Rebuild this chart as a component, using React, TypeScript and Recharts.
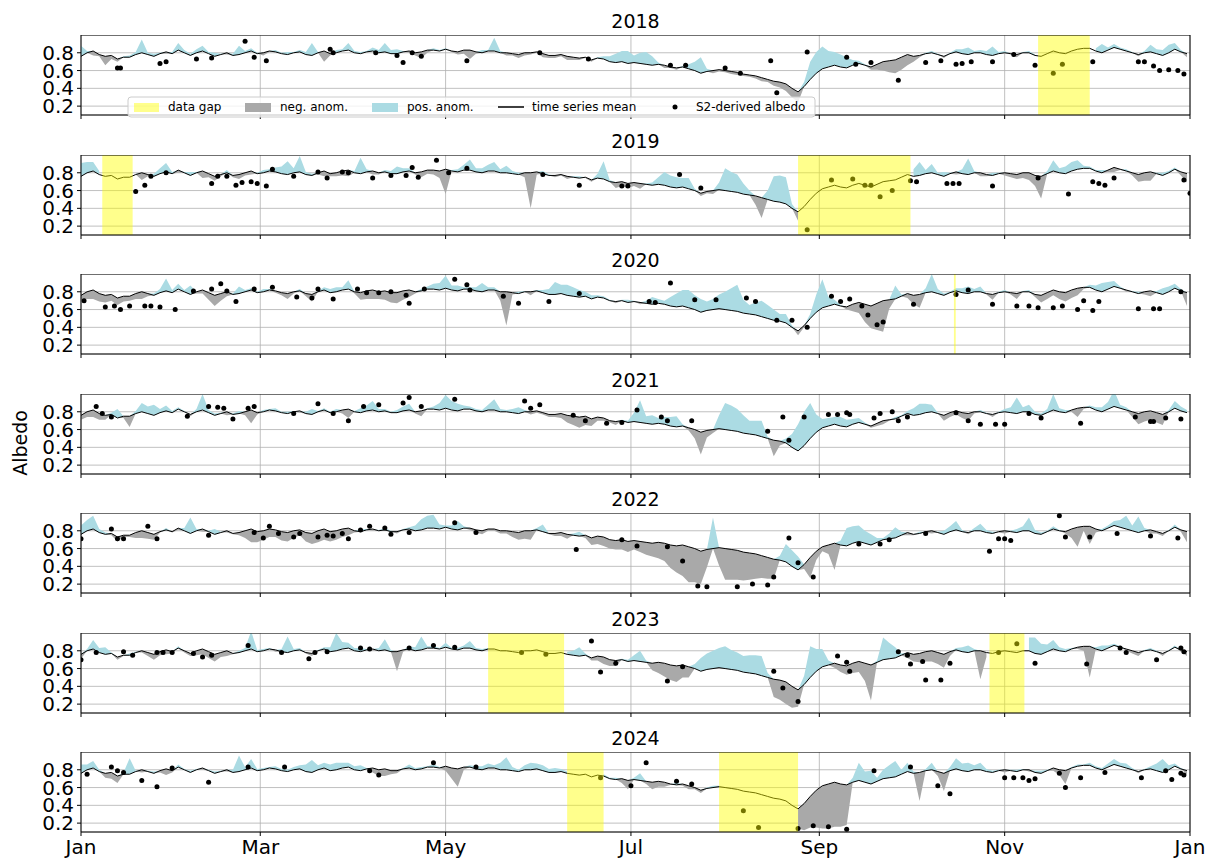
import React from "react";
import {
  Area,
  CartesianGrid,
  ComposedChart,
  Line,
  ReferenceArea,
  Scatter,
  XAxis,
  YAxis,
} from "recharts";

// sampling step of the series, in days of the year
const STEP = 2;

const monthTicks = [0, 59, 120, 181, 243, 304, 365];
const monthLabels = ["Jan", "Mar", "May", "Jul", "Sep", "Nov", "Jan"];
const albedoTicks = [0.2, 0.4, 0.6, 0.8];

// multi-year mean albedo, one value every 2 days (day 0 .. 364)
const meanAlbedo = [
  0.76, 0.8, 0.82, 0.78, 0.76, 0.77, 0.73, 0.75, 0.75, 0.78,
  0.8, 0.78, 0.76, 0.79, 0.81, 0.79, 0.83, 0.8, 0.77, 0.8,
  0.82, 0.79, 0.76, 0.78, 0.8, 0.77, 0.78, 0.8, 0.82, 0.79,
  0.8, 0.82, 0.81, 0.79, 0.78, 0.8, 0.81, 0.78, 0.77, 0.8,
  0.82, 0.79, 0.8, 0.82, 0.83, 0.8, 0.79, 0.81, 0.82, 0.8,
  0.81, 0.79, 0.79, 0.81, 0.82, 0.8, 0.81, 0.83, 0.83, 0.82,
  0.84, 0.82, 0.81, 0.83, 0.83, 0.81, 0.8, 0.82, 0.82, 0.8,
  0.8, 0.79, 0.78, 0.8, 0.8, 0.81, 0.79, 0.77, 0.77, 0.78,
  0.76, 0.75, 0.74, 0.75, 0.72, 0.74, 0.73, 0.7, 0.69, 0.7,
  0.68, 0.69, 0.68, 0.67, 0.66, 0.67, 0.66, 0.64, 0.63, 0.64,
  0.62, 0.6, 0.57, 0.59, 0.6, 0.61, 0.6, 0.59, 0.58, 0.56,
  0.55, 0.54, 0.52, 0.5, 0.48, 0.47, 0.45, 0.4, 0.36, 0.42,
  0.5, 0.57, 0.62, 0.64, 0.66, 0.64, 0.63, 0.66, 0.68, 0.66,
  0.64, 0.67, 0.7, 0.71, 0.72, 0.75, 0.78, 0.76, 0.77, 0.79,
  0.8, 0.78, 0.76, 0.79, 0.81, 0.79, 0.78, 0.8, 0.8, 0.78,
  0.77, 0.79, 0.8, 0.79, 0.78, 0.8, 0.8, 0.77, 0.76, 0.79,
  0.82, 0.8, 0.79, 0.82, 0.84, 0.85, 0.85, 0.82, 0.8, 0.83,
  0.86, 0.84, 0.82, 0.8, 0.78, 0.8, 0.81, 0.79, 0.77, 0.8,
  0.84, 0.81, 0.79,
];

// yearly departure from the mean, same day grid (null = no data)
const anom2018 = [
  0.12, 0.02, -0.05, -0.02, -0.1, -0.04, -0.03, 0.01, 0.02, 0.03,
  0.15, 0.02, 0.03, 0.01, -0.02, 0.02, 0.08, 0.03, 0.02, 0.04,
  0.06, 0.02, 0.04, 0.01, -0.02, 0.02, 0.1, 0.02, 0.03, 0.01,
  -0.03, -0.01, 0.02, 0.01, 0.03, 0.01, 0.02, 0.03, 0.14, 0.01,
  -0.12, -0.02, 0.03, 0.02, 0.08, 0.02, 0.02, 0.01, 0.04, 0.03,
  0.1, 0.04, 0.05, 0.01, -0.02, -0.03, -0.07, -0.03, 0.02, 0.01,
  0.01, -0.01, -0.03, -0.04, -0.1, -0.02, 0.03, 0.01, 0.15, 0.02,
  -0.03, -0.02, -0.04, -0.03, -0.02, -0.01, -0.04, -0.03, -0.03, -0.02,
  -0.04, -0.03, -0.02, -0.01, -0.02, 0.01, 0.03, 0.06, 0.1, 0.12,
  0.14, 0.08, 0.12, 0.14, 0.1, 0.02, -0.03, -0.01, -0.02, 0.01,
  0.05, 0.1, 0.18, 0.03, -0.03, -0.02, -0.02, -0.03, -0.03, -0.02,
  -0.02, -0.03, -0.04, -0.03, -0.05, -0.06, -0.08, -0.1, -0.12, 0.05,
  0.2, 0.24, 0.25, 0.18, 0.15, 0.14, 0.12, 0.06, 0.03, 0.01,
  -0.03, -0.06, -0.1, -0.13, -0.15, -0.14, -0.12, -0.06, -0.02, 0.01,
  0.02, 0.01, -0.02, 0.01, 0.03, 0.05, 0.08, 0.02, 0.03, 0.04,
  0.1, 0.02, 0.02, -0.01, -0.03, 0.01, 0.02, 0.01, null, null,
  null, null, null, null, null, null, null, 0.03, 0.1, 0.03,
  0.04, 0.02, 0.02, 0.01, -0.02, 0.02, 0.08, 0.05, 0.06, 0.09,
  0.07, 0.02, -0.04,
];

const anom2019 = [
  0.15, 0.12, 0.1, 0.04, null, null, null, null, null, 0.01,
  -0.08, -0.02, 0.03, 0.06, 0.1, 0.02, -0.03, 0.01, 0.04, 0.01,
  -0.08, -0.04, -0.05, -0.02, 0.03, -0.02, -0.05, -0.03, -0.04, 0.01,
  0.03, 0.02, 0.05, 0.08, 0.15, 0.05, 0.18, 0.03, 0.02, -0.02,
  -0.06, -0.03, -0.04, -0.05, -0.07, 0.02, 0.18, 0.03, -0.04, -0.02,
  0.02, 0.03, 0.08, 0.04, 0.03, -0.02, -0.06, -0.04, -0.05, -0.08,
  -0.28, 0.01, 0.03, 0.06, 0.12, 0.04, 0.05, 0.07, 0.1, 0.04,
  0.08, 0.03, 0.02, -0.05, -0.4, -0.03, 0.03, 0.01, -0.02, -0.01,
  -0.03, 0.01, 0.02, -0.01, -0.02, 0.05, 0.2, 0.02, -0.06, -0.05,
  -0.05, -0.04, -0.06, 0.01, 0.03, 0.08, 0.15, 0.13, 0.12, 0.1,
  0.12, 0.02, -0.03, -0.02, -0.04, 0.08, 0.25, 0.22, 0.2, 0.12,
  0.05, -0.1, -0.23, 0.1, 0.28, 0.3, 0.3, 0.05, -0.1, null,
  null, null, null, null, null, null, null, null, null, null,
  null, null, null, null, null, null, null, 0.08, 0.15, 0.04,
  0.1, 0.02, 0.05, 0.01, -0.03, 0.05, 0.18, 0.02, -0.04, -0.02,
  0.03, 0.01, -0.03, -0.04, -0.05, -0.06, -0.08, -0.12, -0.25, 0.03,
  0.12, 0.05, 0.08, 0.1, 0.1, 0.03, 0.02, 0.01, 0.03, -0.02,
  -0.05, -0.01, 0.02, -0.03, -0.08, -0.09, -0.1, 0.01, 0.03, 0.02,
  0.02, -0.04, -0.1,
];

const anom2020 = [
  -0.05, -0.08, -0.1, -0.09, -0.08, -0.07, -0.08, -0.06, -0.05, -0.06,
  -0.08, -0.03, 0.02, 0.04, 0.14, 0.03, 0.06, 0.02, 0.1, -0.02,
  -0.04, -0.08, -0.12, -0.08, -0.05, 0.01, 0.08, 0.02, 0.02, 0.01,
  0.03, 0.01, -0.02, -0.03, -0.06, -0.02, 0.02, -0.03, -0.08, 0.01,
  0.03, 0.04, 0.05, 0.03, 0.1, -0.02, -0.08, -0.09, -0.1, -0.08,
  -0.1, -0.11, -0.12, -0.1, -0.08, -0.02, 0.02, 0.03, 0.06, 0.08,
  0.14, 0.05, 0.06, 0.02, 0.02, 0.04, 0.1, 0.03, 0.03, -0.1,
  -0.38, -0.02, 0.02, 0.01, -0.04, 0.01, 0.03, 0.06, 0.14, 0.1,
  0.12, 0.1, 0.08, 0.05, 0.04, 0.02, 0.02, 0.01, -0.02, 0.01,
  0.03, 0.01, -0.02, 0.03, 0.08, 0.05, 0.04, 0.1, 0.15, 0.18,
  0.2, 0.16, 0.15, 0.1, 0.12, 0.16, 0.2, 0.25, 0.3, 0.15,
  0.1, 0.14, 0.18, 0.15, 0.12, 0.08, 0.1, 0.02, -0.05, -0.02,
  0.05, 0.2, 0.32, 0.1, 0.05, 0.01, -0.03, -0.08, -0.12, -0.2,
  -0.25, -0.3, -0.35, -0.1, 0.15, 0.02, -0.05, -0.1, -0.15, 0.05,
  0.2, 0.05, 0.02, 0.01, 0.03, 0.05, 0.08, 0.03, 0.06, -0.01,
  -0.06, 0.01, 0.02, -0.02, -0.06, 0.01, 0.02, -0.03, -0.08, -0.07,
  -0.06, -0.08, -0.1, -0.09, -0.08, -0.02, 0.03, 0.05, 0.1, 0.08,
  0.06, 0.02, -0.02, 0.01, 0.02, -0.03, -0.06, 0.02, 0.07, 0.06,
  0.05, 0.02, -0.15,
];

const anom2021 = [
  -0.05, -0.06, -0.08, -0.07, -0.05, 0.02, 0.1, -0.02, -0.12, 0.03,
  0.1, 0.08, 0.12, 0.04, 0.06, 0.02, 0.02, 0.01, -0.02, 0.03,
  0.18, 0.03, 0.02, 0.01, -0.04, 0.01, 0.03, -0.04, -0.15, -0.02,
  0.02, 0.01, 0.03, 0.01, 0.02, 0.01, -0.02, 0.02, 0.06, 0.01,
  0.02, 0.01, 0.03, -0.04, -0.1, 0.01, 0.05, 0.06, 0.1, 0.03,
  0.02, 0.01, 0.03, 0.05, 0.07, -0.02, -0.06, 0.01, 0.03, 0.08,
  0.15, 0.1, 0.08, 0.04, 0.03, 0.02, 0.02, 0.06, 0.12, 0.03,
  0.02, 0.04, 0.07, 0.02, -0.03, -0.02, -0.02, -0.03, -0.03, -0.05,
  -0.08, -0.1, -0.12, -0.1, -0.08, -0.04, -0.03, -0.02, -0.04, 0.01,
  0.02, 0.1, 0.25, 0.08, 0.1, 0.06, 0.08, 0.1, 0.12, 0.02,
  -0.03, -0.1, -0.25, -0.08, -0.04, 0.15, 0.3, 0.28, 0.25, 0.2,
  0.15, 0.16, 0.18, 0.02, -0.18, -0.05, 0.05, 0.15, 0.3, 0.38,
  0.4, 0.2, 0.1, 0.09, 0.08, 0.1, 0.08, 0.06, 0.05, 0.02,
  -0.02, -0.03, -0.04, -0.01, 0.02, 0.01, 0.03, 0.08, 0.12, 0.1,
  0.08, 0.01, -0.06, -0.05, -0.04, -0.06, -0.08, -0.02, 0.02, 0.01,
  -0.03, 0.01, 0.03, 0.06, 0.18, 0.05, 0.08, 0.03, 0.02, 0.04,
  0.18, 0.04, 0.03, -0.02, -0.1, -0.02, 0.02, 0.03, 0.05, 0.08,
  0.18, 0.04, 0.03, -0.06, -0.12, -0.11, -0.1, -0.11, -0.12, 0.02,
  0.08, 0.05, 0.03,
];

const anom2022 = [
  0.1, 0.12, 0.15, 0.04, 0.02, -0.02, -0.05, -0.02, -0.02, -0.06,
  -0.08, -0.07, -0.06, -0.01, 0.02, -0.01, -0.02, 0.03, 0.18, 0.02,
  -0.03, 0.01, 0.06, 0.01, -0.02, -0.01, -0.03, -0.08, -0.15, -0.12,
  -0.1, -0.09, -0.08, -0.1, -0.1, -0.08, -0.06, -0.1, -0.12, -0.13,
  -0.12, -0.11, -0.1, -0.09, -0.08, -0.02, 0.03, 0.01, -0.02, 0.01,
  0.02, 0.01, -0.02, 0.01, 0.02, 0.06, 0.12, 0.14, 0.15, 0.05,
  0.02, 0.04, 0.1, 0.02, -0.02, -0.03, -0.04, -0.02, -0.02, -0.03,
  -0.03, -0.06, -0.08, -0.09, -0.1, 0.02, 0.08, -0.01, -0.03, -0.04,
  -0.05, 0.02, 0.05, -0.03, -0.08, -0.09, -0.1, -0.1, -0.1, -0.11,
  -0.12, -0.1, -0.12, -0.14, -0.15, -0.18, -0.2, -0.26, -0.3, -0.35,
  -0.4, -0.38, -0.37, -0.2, 0.35, -0.2, -0.35, -0.34, -0.33, -0.32,
  -0.3, -0.28, -0.25, -0.24, -0.22, 0.05, 0.2, 0.18, 0.15, -0.05,
  -0.23, -0.1, -0.05, -0.1, -0.3, 0.05, 0.2, 0.19, 0.18, 0.14,
  0.12, 0.05, 0.02, 0.06, 0.12, 0.04, -0.03, -0.01, 0.02, -0.01,
  -0.03, 0.01, 0.04, 0.06, 0.1, 0.02, -0.02, 0.03, 0.08, 0.03,
  0.02, -0.01, -0.03, 0.01, 0.04, 0.05, 0.15, 0.04, 0.02, 0.01,
  0.03, 0.01, -0.02, -0.1, -0.22, -0.05, -0.2, -0.04, 0.02, 0.03,
  0.05, 0.08, 0.15, 0.06, 0.18, 0.03, -0.04, -0.02, -0.03, 0.01,
  0.03, -0.02, -0.12,
];

const anom2023 = [
  -0.05, 0.02, 0.1, 0.05, 0.08, 0.01, -0.03, -0.01, 0.02, 0.01,
  -0.02, -0.04, -0.06, -0.04, -0.05, -0.02, 0.02, -0.02, -0.03, -0.05,
  -0.06, -0.07, -0.08, -0.05, -0.06, -0.01, 0.02, 0.03, 0.2, 0.02,
  0.02, 0.01, -0.02, 0.03, 0.18, 0.02, 0.02, -0.01, -0.03, 0.01,
  0.02, 0.05, 0.2, 0.08, 0.06, 0.03, 0.04, 0.01, -0.02, 0.03,
  0.12, 0.02, -0.22, -0.02, 0.03, 0.04, 0.15, 0.02, 0.02, 0.01,
  0.05, 0.01, 0.02, 0.03, 0.08, 0.02, 0.02, 0.01, null, null,
  null, null, null, null, null, null, null, null, null, null,
  0.03, 0.05, 0.1, 0.02, -0.03, -0.05, -0.08, -0.07, -0.06, 0.01,
  0.02, 0.06, 0.12, 0.02, -0.08, -0.12, -0.15, -0.17, -0.18, -0.14,
  -0.12, 0.05, 0.15, 0.18, 0.2, 0.22, 0.25, 0.22, 0.2, 0.18,
  0.2, 0.21, 0.22, 0.05, -0.2, -0.22, -0.25, -0.24, -0.19, 0.1,
  0.35, 0.25, 0.2, 0.05, -0.05, -0.08, -0.1, -0.11, -0.12, -0.2,
  -0.4, 0.02, 0.25, 0.18, 0.12, 0.02, -0.06, -0.08, -0.1, -0.11,
  -0.12, -0.13, -0.15, -0.05, 0.02, 0.05, 0.08, 0.02, -0.32, -0.05,
  null, null, null, null, null, null, 0.15, 0.18, 0.12, 0.08,
  0.1, 0.04, 0.03, 0.01, -0.02, -0.05, -0.35, 0.02, 0.06, 0.03,
  0.02, 0.01, -0.02, -0.03, -0.04, 0.01, 0.02, 0.01, -0.03, 0.01,
  0.02, -0.02, -0.05,
];

const anom2024 = [
  0.1, 0.06, 0.08, 0.02, -0.05, -0.07, -0.08, 0.02, 0.18, 0.01,
  -0.03, 0.01, 0.02, -0.02, -0.07, -0.02, 0.03, 0.01, 0.02, 0.01,
  -0.02, 0.01, 0.02, 0.01, -0.02, 0.03, 0.18, 0.03, 0.1, 0.02,
  0.02, 0.01, 0.03, 0.02, 0.02, 0.03, 0.04, 0.08, 0.14, 0.05,
  0.06, 0.07, 0.08, 0.06, 0.05, 0.04, 0.06, 0.01, -0.05, -0.07,
  -0.08, -0.04, -0.03, 0.01, 0.04, 0.02, 0.02, 0.01, 0.03, 0.01,
  -0.05, -0.12, -0.2, -0.03, 0.02, 0.03, 0.04, 0.05, 0.03, 0.08,
  0.14, 0.04, 0.02, 0.05, 0.08, 0.06, 0.06, 0.04, 0.05, 0.03,
  0.02, null, null, null, null, null, 0.02, 0.01, 0.02, -0.05,
  -0.1, 0.02, 0.08, -0.03, -0.08, -0.06, -0.05, -0.01, 0.02, -0.02,
  -0.04, -0.02, -0.03, 0.01, 0.02, 0.01, null, null, null, null,
  null, null, null, null, null, null, null, null, -0.22, -0.3,
  -0.35, -0.42, -0.48, -0.5, -0.5, -0.48, -0.45, 0.05, 0.2, 0.12,
  0.15, 0.04, 0.1, 0.14, 0.18, 0.05, 0.1, 0.02, -0.32, 0.02,
  0.08, -0.05, -0.2, 0.04, 0.12, 0.08, 0.1, 0.05, 0.08, 0.03,
  0.02, 0.01, -0.03, 0.01, 0.02, 0.01, -0.02, 0.02, 0.03, 0.01,
  -0.03, -0.06, -0.15, 0.01, 0.02, 0.01, 0.03, 0.02, 0.02, 0.04,
  0.06, 0.04, 0.05, 0.02, -0.02, 0.01, 0.03, 0.08, 0.15, 0.05,
  0.03, 0.01, -0.04,
];

// data gaps [start day, end day]
const gaps2018 = [[315, 332]];
const gaps2019 = [[7, 17], [236, 273]];
const gaps2020 = [[287.3, 287.9]];
const gaps2021: number[][] = [];
const gaps2022: number[][] = [];
const gaps2023 = [[134, 159], [299, 310.5]];
const gaps2024 = [[160, 172], [210, 236]];

// S2-derived albedo [day, albedo]
const dots2018 = [
  [12, 0.63], [13, 0.63], [26, 0.68], [28, 0.7], [38, 0.73], [43, 0.74], [54, 0.93], [57, 0.75],
  [61, 0.71], [82, 0.84], [83, 0.8], [97, 0.8], [104, 0.77], [106, 0.69], [109, 0.8], [112, 0.76],
  [127, 0.71], [151, 0.8], [167, 0.73], [194, 0.66], [199, 0.66], [212, 0.63], [217, 0.57],
  [227, 0.71], [229, 0.35], [239, 0.81], [252, 0.75], [255, 0.67], [260, 0.69], [269, 0.49],
  [278, 0.69], [283, 0.71], [288, 0.67], [290, 0.68], [293, 0.7], [300, 0.7], [307, 0.78],
  [314, 0.66], [320, 0.57], [323, 0.67], [333, 0.7], [348, 0.7], [350, 0.7], [353, 0.65],
  [355, 0.6], [358, 0.61], [361, 0.6], [363, 0.56],
];
const dots2019 = [
  [18, 0.59], [21, 0.66], [23, 0.76], [28, 0.8], [43, 0.68], [45, 0.76], [48, 0.76], [51, 0.66],
  [53, 0.69], [56, 0.7], [58, 0.68], [61, 0.65], [63, 0.84], [70, 0.76], [78, 0.81], [81, 0.74],
  [86, 0.81], [88, 0.8], [96, 0.74], [102, 0.77], [107, 0.77], [109, 0.86], [111, 0.75],
  [117, 0.94], [121, 0.8], [127, 0.85], [152, 0.78], [164, 0.66], [178, 0.65], [180, 0.65],
  [197, 0.78], [204, 0.63], [239, 0.16], [247, 0.72], [254, 0.73], [258, 0.66], [260, 0.66],
  [263, 0.53], [267, 0.6], [273, 0.71], [275, 0.7], [285, 0.68], [287, 0.68], [289, 0.68],
  [300, 0.65], [315, 0.74], [325, 0.56], [333, 0.7], [335, 0.68], [337, 0.66], [340, 0.74],
  [363, 0.72], [365, 0.57],
];
const dots2020 = [
  [1, 0.7], [8, 0.63], [11, 0.64], [13, 0.6], [16, 0.64], [21, 0.64], [23, 0.64], [26, 0.63],
  [31, 0.6], [37, 0.81], [43, 0.83], [46, 0.89], [48, 0.81], [51, 0.69], [57, 0.83], [63, 0.85],
  [71, 0.74], [76, 0.73], [78, 0.83], [83, 0.72], [91, 0.83], [94, 0.79], [98, 0.79], [102, 0.8],
  [107, 0.76], [108, 0.67], [113, 0.83], [123, 0.94], [127, 0.88], [128, 0.82], [139, 0.75],
  [144, 0.67], [154, 0.69], [164, 0.78], [187, 0.69], [189, 0.68], [194, 0.9], [202, 0.71],
  [209, 0.71], [219, 0.73], [222, 0.69], [229, 0.48], [234, 0.48], [239, 0.4], [247, 0.75],
  [250, 0.69], [253, 0.72], [257, 0.64], [259, 0.54], [262, 0.43], [264, 0.46], [274, 0.66],
  [288, 0.77], [292, 0.82], [300, 0.66], [308, 0.64], [312, 0.64], [315, 0.62], [320, 0.62],
  [323, 0.64], [328, 0.6], [330, 0.7], [333, 0.59], [335, 0.69], [348, 0.61], [353, 0.61],
  [355, 0.61], [362, 0.8],
];
const dots2021 = [
  [5, 0.86], [7, 0.78], [10, 0.74], [35, 0.75], [42, 0.86], [45, 0.85], [47, 0.84], [50, 0.72],
  [55, 0.84], [57, 0.86], [70, 0.78], [78, 0.89], [83, 0.78], [88, 0.7], [93, 0.86], [98, 0.88],
  [106, 0.9], [108, 0.96], [112, 0.86], [123, 0.94], [146, 0.92], [148, 0.84], [151, 0.88],
  [162, 0.76], [166, 0.7], [173, 0.67], [178, 0.68], [183, 0.82], [191, 0.74], [193, 0.7],
  [201, 0.7], [226, 0.58], [231, 0.74], [233, 0.48], [238, 0.74], [246, 0.77], [249, 0.77],
  [252, 0.79], [253, 0.77], [261, 0.73], [263, 0.78], [267, 0.8], [269, 0.7], [272, 0.74],
  [288, 0.79], [292, 0.7], [296, 0.66], [301, 0.66], [304, 0.66], [312, 0.78], [316, 0.73],
  [329, 0.67], [347, 0.74], [352, 0.69], [353, 0.69], [357, 0.73], [362, 0.72],
];
const dots2022 = [
  [0, 0.71], [10, 0.82], [12, 0.71], [14, 0.71], [22, 0.85], [25, 0.71], [42, 0.75], [57, 0.78],
  [60, 0.72], [62, 0.85], [65, 0.77], [70, 0.73], [72, 0.77], [78, 0.73], [81, 0.75], [83, 0.74],
  [86, 0.77], [88, 0.71], [92, 0.81], [95, 0.85], [100, 0.83], [102, 0.76], [108, 0.78],
  [123, 0.89], [130, 0.78], [163, 0.59], [178, 0.7], [183, 0.63], [193, 0.62], [198, 0.46],
  [203, 0.18], [206, 0.17], [216, 0.17], [221, 0.2], [226, 0.19], [228, 0.28], [233, 0.72],
  [236, 0.44], [241, 0.28], [256, 0.65], [263, 0.65], [266, 0.7], [278, 0.77], [299, 0.57],
  [302, 0.71], [304, 0.71], [306, 0.69], [322, 0.97], [324, 0.73], [332, 0.73], [341, 0.77],
  [352, 0.74], [361, 0.72],
];
const dots2023 = [
  [0, 0.7], [5, 0.78], [14, 0.79], [17, 0.75], [25, 0.78], [27, 0.78], [30, 0.78], [37, 0.77],
  [40, 0.73], [43, 0.75], [55, 0.86], [66, 0.78], [75, 0.71], [77, 0.78], [81, 0.79], [92, 0.83],
  [95, 0.82], [108, 0.83], [116, 0.86], [123, 0.84], [145, 0.78], [153, 0.76], [168, 0.91],
  [171, 0.56], [176, 0.66], [193, 0.46], [198, 0.62], [228, 0.57], [231, 0.38], [236, 0.23],
  [249, 0.74], [252, 0.67], [253, 0.57], [269, 0.79], [272, 0.75], [273, 0.65], [277, 0.68],
  [278, 0.47], [283, 0.47], [286, 0.66], [302, 0.78], [308, 0.88], [314, 0.66], [331, 0.65],
  [342, 0.83], [344, 0.78], [354, 0.7], [362, 0.83], [363, 0.79],
];
const dots2024 = [
  [2, 0.75], [10, 0.83], [12, 0.79], [14, 0.77], [20, 0.68], [25, 0.61], [30, 0.82], [42, 0.66],
  [55, 0.83], [67, 0.83], [95, 0.79], [98, 0.74], [116, 0.88], [130, 0.83], [171, 0.71],
  [181, 0.62], [186, 0.88], [196, 0.67], [201, 0.64], [218, 0.34], [223, 0.15], [236, 0.14],
  [241, 0.17], [246, 0.16], [252, 0.13], [261, 0.79], [273, 0.83], [282, 0.62], [286, 0.53],
  [304, 0.71], [307, 0.71], [310, 0.71], [312, 0.68], [314, 0.7], [322, 0.76], [324, 0.6],
  [329, 0.71], [337, 0.77], [349, 0.71], [357, 0.79], [359, 0.69], [362, 0.76], [363, 0.74],
];

const years = [
  { label: "2018", anom: anom2018, gaps: gaps2018, dots: dots2018 },
  { label: "2019", anom: anom2019, gaps: gaps2019, dots: dots2019 },
  { label: "2020", anom: anom2020, gaps: gaps2020, dots: dots2020 },
  { label: "2021", anom: anom2021, gaps: gaps2021, dots: dots2021 },
  { label: "2022", anom: anom2022, gaps: gaps2022, dots: dots2022 },
  { label: "2023", anom: anom2023, gaps: gaps2023, dots: dots2023 },
  { label: "2024", anom: anom2024, gaps: gaps2024, dots: dots2024 },
];

const PANEL_TOPS = [35, 155, 274, 394, 513, 633, 752];
const PLOT_H = 80;
const Y_DOMAIN = [0.1, 1.0];
const FONT = "DejaVu Sans";
const NEG = "#a9a9a9";
const POS = "#abdbe3";
const GAP = "#ffff00";

const dotShape = (p: any) => <circle cx={p.cx} cy={p.cy} r={2.5} fill="#000" />;

function YearPanel({ anom, gaps, dots, top, showLabels }: any) {
  const rows = meanAlbedo.map((m, i) => {
    const a = anom[i];
    const v = a == null ? null : m + a;
    return {
      day: i * STEP,
      mean: m,
      neg: v == null ? null : [Math.min(m, v), m],
      pos: v == null ? null : [m, Math.max(m, v)],
    };
  });
  const pts = dots.map(([day, value]: number[]) => ({ day, value }));
  const axisH = showLabels ? 26 : 6;

  return (
    <div style={{ position: "absolute", left: 0, top }}>
      <ComposedChart
        width={1206}
        height={PLOT_H + axisH}
        data={rows}
        margin={{ top: 0, right: 16, bottom: 0, left: 0 }}
      >
        <CartesianGrid stroke="#b0b0b0" strokeWidth={0.8} />
        <XAxis
          dataKey="day"
          type="number"
          domain={[0, 365]}
          ticks={monthTicks}
          interval={0}
          allowDataOverflow
          height={axisH}
          axisLine={false}
          tickSize={4}
          tickMargin={4}
          tickLine={{ stroke: "#000" }}
          tick={{ fontSize: 20, fill: "#000", fontFamily: FONT }}
          tickFormatter={(d: number) => (showLabels ? monthLabels[monthTicks.indexOf(d)] : "")}
        />
        <YAxis
          type="number"
          width={81}
          domain={Y_DOMAIN}
          ticks={albedoTicks}
          interval={0}
          allowDataOverflow
          axisLine={false}
          tickSize={4}
          tickMargin={3}
          tickLine={{ stroke: "#000" }}
          tick={{ fontSize: 20, fill: "#000", fontFamily: FONT }}
          tickFormatter={(v: number) => v.toFixed(1)}
        />
        <Area
          dataKey="neg"
          type="linear"
          stroke="none"
          fill={NEG}
          fillOpacity={1}
          dot={false}
          activeDot={false}
          isAnimationActive={false}
        />
        <Area
          dataKey="pos"
          type="linear"
          stroke="none"
          fill={POS}
          fillOpacity={1}
          dot={false}
          activeDot={false}
          isAnimationActive={false}
        />
        <Line
          dataKey="mean"
          type="linear"
          stroke="#000"
          strokeWidth={1}
          dot={false}
          activeDot={false}
          isAnimationActive={false}
        />
        <Scatter data={pts} dataKey="value" fill="#000" shape={dotShape} isAnimationActive={false} />
        {gaps.map(([a, b]: number[], k: number) => (
          <ReferenceArea
            key={k}
            x1={a}
            x2={b}
            y1={Y_DOMAIN[0]}
            y2={Y_DOMAIN[1]}
            fill={GAP}
            fillOpacity={0.45}
            stroke="none"
            zIndex={1500}
          />
        ))}
        <ReferenceArea
          x1={0}
          x2={365}
          y1={Y_DOMAIN[0]}
          y2={Y_DOMAIN[1]}
          fill="none"
          stroke="#000"
          strokeWidth={1}
          zIndex={1600}
        />
      </ComposedChart>
    </div>
  );
}

function Legend() {
  const ty = 111;
  const txt = { fontSize: 12, fill: "#000" };
  return (
    <g>
      <rect x={128} y={97} width={687} height={20} rx={3} fill="#fff" fillOpacity={0.8} stroke="#cccccc" />
      <rect x={134} y={103} width={25} height={9} fill={GAP} fillOpacity={0.45} />
      <text x={168} y={ty} {...txt}>data gap</text>
      <rect x={245} y={103} width={26} height={9} fill={NEG} />
      <text x={280} y={ty} {...txt}>neg. anom.</text>
      <rect x={372} y={103} width={26} height={9} fill={POS} />
      <text x={407} y={ty} {...txt}>pos. anom.</text>
      <line x1={498} x2={524} y1={107} y2={107} stroke="#000" strokeWidth={1.5} />
      <text x={532} y={ty} {...txt}>time series mean</text>
      <circle cx={675} cy={107} r={2.5} fill="#000" />
      <text x={696} y={ty} {...txt}>S2-derived albedo</text>
    </g>
  );
}

export default function App() {
  return (
    <div
      style={{
        position: "absolute",
        left: 0,
        top: 0,
        width: 1206,
        height: 858,
        overflow: "hidden",
        background: "#fff",
        fontFamily: FONT,
      }}
    >
      {years.map((y, k) => (
        <YearPanel
          key={y.label}
          anom={y.anom}
          gaps={y.gaps}
          dots={y.dots}
          top={PANEL_TOPS[k]}
          showLabels={k === years.length - 1}
        />
      ))}
      <svg
        width={1206}
        height={858}
        style={{ position: "absolute", left: 0, top: 0, pointerEvents: "none" }}
        fontFamily={FONT}
      >
        {years.map((y, k) => (
          <text key={y.label} x={635.5} y={PANEL_TOPS[k] - 7} textAnchor="middle" fontSize={19} fill="#000">
            {y.label}
          </text>
        ))}
        <text transform="translate(27,443) rotate(-90)" textAnchor="middle" fontSize={19} fill="#000">
          Albedo
        </text>
        <Legend />
      </svg>
    </div>
  );
}
